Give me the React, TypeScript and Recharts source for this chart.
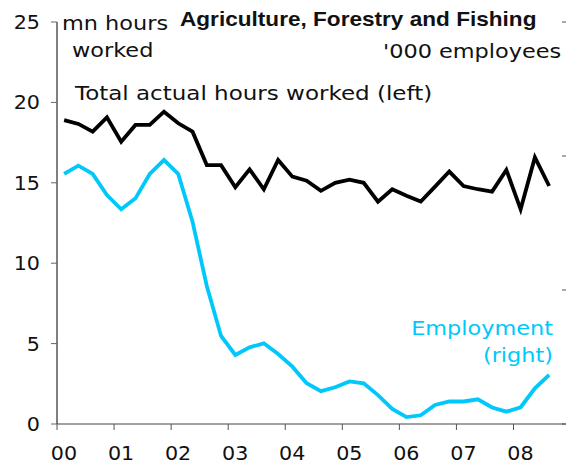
import React from 'react';
import { LineChart, Line, XAxis, YAxis } from 'recharts';

// Quarterly observations, Q1 2000 .. Q3 2008
const quarters: string[] = [
  '2000Q1','2000Q2','2000Q3','2000Q4','2001Q1','2001Q2','2001Q3','2001Q4',
  '2002Q1','2002Q2','2002Q3','2002Q4','2003Q1','2003Q2','2003Q3','2003Q4',
  '2004Q1','2004Q2','2004Q3','2004Q4','2005Q1','2005Q2','2005Q3','2005Q4',
  '2006Q1','2006Q2','2006Q3','2006Q4','2007Q1','2007Q2','2007Q3','2007Q4',
  '2008Q1','2008Q2','2008Q3',
];

// Total actual hours worked, mn hours (left axis)
const hoursWorked: number[] = [
  18.9, 18.66, 18.18, 19.07, 17.56, 18.6, 18.6, 19.42,
  18.7, 18.18, 16.1, 16.1, 14.72, 15.84, 14.6, 16.42,
  15.38, 15.13, 14.5, 15.0, 15.2, 15.0, 13.83, 14.6,
  14.2, 13.83, 14.76, 15.7, 14.8, 14.6, 14.45, 15.8,
  13.35, 16.58, 14.8,
];

// Employment, '000 employees (right axis)
const employment: number[] = [
  186.6, 192.8, 186.6, 170.9, 160.2, 168.4, 186.6, 197,
  186.6, 151, 103, 65.7, 51.5, 57.2, 60.2, 52.2,
  42.8, 30.4, 24.5, 27.4, 31.8, 30.4, 21.6, 11.3,
  5.2, 6.5, 14.2, 16.8, 16.8, 18.4, 12.3, 9.2,
  12.5, 26.6, 36.6,
];

const leftTicks: number[] = [0, 5, 10, 15, 20, 25];
const rightTicks: number[] = [0, 100, 200, 300];
const yearTicks: number[] = [0, 1, 2, 3, 4, 5, 6, 7, 8];
const yearLabels: string[] = ['00', '01', '02', '03', '04', '05', '06', '07', '08'];

const data = quarters.map((q, i) => ({
  q,
  t: i / 4 + 0.125,
  hours: hoursWorked[i],
  emp: employment[i],
}));

const FONT = "'DejaVu Sans', Verdana, sans-serif";

const StretchText = ({ x, y, anchor = 'start', fill = '#111', size = 20, weight = 'normal', family = FONT, sx = 1.12, children }: any) => (
  <text
    transform={`translate(${x},${y}) scale(${sx},1)`}
    textAnchor={anchor}
    fill={fill}
    fontSize={size}
    fontWeight={weight}
    fontFamily={family}
  >
    {children}
  </text>
);

const LeftTick = (props: any) => {
  const { x, y, payload } = props;
  return (
    <text
      transform={`translate(${x},${y}) scale(1.06,1)`}
      textAnchor="end"
      dy="0.36em"
      fill="#111"
      fontSize={19.5}
      fontFamily={FONT}
    >
      {payload.value}
    </text>
  );
};

const BottomTick = (props: any) => {
  const { x, y, payload } = props;
  return (
    <text
      transform={`translate(${x + 7},${y}) scale(1.06,1)`}
      textAnchor="middle"
      dy="0.71em"
      fill="#111"
      fontSize={19.5}
      fontFamily={FONT}
    >
      {yearLabels[payload.value]}
    </text>
  );
};

const EmptyTick = () => <g />;

export default function App() {
  return (
    <div style={{ position: 'absolute', left: 0, top: 0, width: 566, height: 464, background: '#fff' }}>
      <LineChart
        width={566}
        height={464}
        data={data}
        margin={{ top: 22, right: 0, bottom: 10, left: 0 }}
      >
        <XAxis
          dataKey="t"
          type="number"
          domain={[0, 8.92]}
          ticks={yearTicks}
          allowDataOverflow
          height={30}
          tickSize={6}
          tickMargin={16}
          axisLine={{ stroke: '#444', strokeWidth: 1 }}
          tickLine={{ stroke: '#555' }}
          tick={<BottomTick />}
        />
        <YAxis
          yAxisId="left"
          orientation="left"
          width={57}
          domain={[0, 25]}
          ticks={leftTicks}
          tickSize={6}
          tickMargin={11}
          axisLine={{ stroke: '#000', strokeWidth: 1 }}
          tickLine={{ stroke: '#666' }}
          tick={<LeftTick />}
        />
        <YAxis
          yAxisId="right"
          orientation="right"
          width={1}
          domain={[0, 300]}
          ticks={rightTicks}
          mirror
          tickSize={4}
          axisLine={false}
          tickLine={{ stroke: '#555', strokeWidth: 1 }}
          tick={EmptyTick}
        />
        <Line
          yAxisId="left"
          type="linear"
          dataKey="hours"
          stroke="#000"
          strokeWidth={3.8}
          dot={false}
          isAnimationActive={false}
        />
        <Line
          yAxisId="right"
          type="linear"
          dataKey="emp"
          stroke="#00C8FA"
          strokeWidth={3.8}
          dot={false}
          isAnimationActive={false}
        />
      </LineChart>
      <svg
        width={566}
        height={464}
        style={{ position: 'absolute', left: 0, top: 0, pointerEvents: 'none' }}
      >
        <StretchText x={62} y={30}>mn hours</StretchText>
        <StretchText x={72} y={57}>worked</StretchText>
        <StretchText x={180} y={26} weight="bold" sx={1.13} family="'Liberation Sans', Arial, sans-serif">
          Agriculture, Forestry and Fishing
        </StretchText>
        <StretchText x={383} y={58}>'000 employees</StretchText>
        <StretchText x={75} y={100} sx={1.15}>Total actual hours worked (left)</StretchText>
        <StretchText x={553} y={335} anchor="end" fill="#00C8FA">Employment</StretchText>
        <StretchText x={553} y={362} anchor="end" fill="#00C8FA">(right)</StretchText>
      </svg>
    </div>
  );
}
